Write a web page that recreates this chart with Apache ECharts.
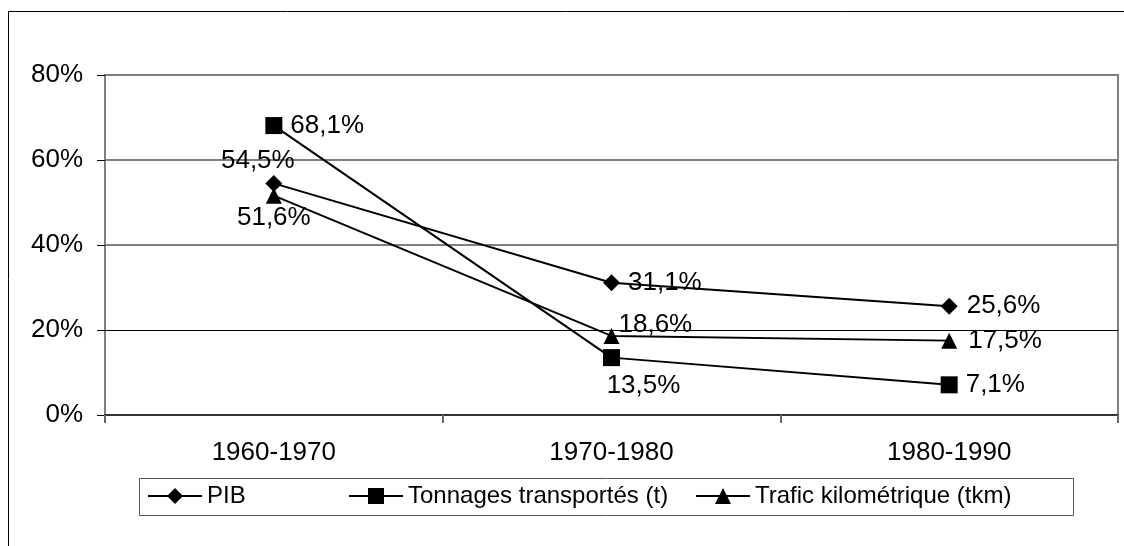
<!DOCTYPE html>
<html>
<head>
<meta charset="utf-8">
<script src="https://cdn.jsdelivr.net/npm/echarts@6/dist/echarts.min.js"></script>
<style>
html, body { margin: 0; padding: 0; background: #fff; }
#chartDIV { width: 1124px; height: 546px; }
</style>
</head>
<body>
<div id="chartDIV"></div>
<script>
var categories = ['1960-1970', '1970-1980', '1980-1990'];
var pib = [54.5, 31.1, 25.6];
var tonnages = [68.1, 13.5, 7.1];
var trafic = [51.6, 18.6, 17.5];
var yTicks = [0, 20, 40, 60, 80];
var seriesNames = ['PIB', 'Tonnages transportés (t)', 'Trafic kilométrique (tkm)'];

var myChart = echarts.init(document.getElementById('chartDIV'));
var font = 'Liberation Sans, Arial, sans-serif';

// placement of each data label (per series, per point)
var placements = [
    [{position: 'top', offset: [-16, 4]}, {position: 'right', distance: 8}, {position: 'right', distance: 9}],
    [{position: 'right', distance: 8}, {position: 'bottom', offset: [32, 2]}, {position: 'right', distance: 8}],
    [{position: 'bottom', offset: [0, -4]}, {position: 'right', offset: [-6, -11]}, {position: 'right', distance: 11}]
];

function fmt(v) {
    return String(v.toFixed(1)).replace('.', ',') + '%';
}

function buildData(values, idx) {
    return values.map(function (v, i) {
        return {value: v, label: placements[idx][i]};
    });
}

function makeSeries(name, values, idx, symbol, size) {
    return {
        name: name,
        type: 'line',
        data: buildData(values, idx),
        symbol: symbol,
        symbolSize: size,
        showAllSymbol: true,
        lineStyle: {color: '#000', width: 2},
        itemStyle: {color: '#000'},
        emphasis: {disabled: true},
        label: {
            show: true,
            color: '#000',
            fontFamily: font,
            fontSize: 26,
            formatter: function (p) { return fmt(p.value); }
        }
    };
}

function makeLegend(name, left) {
    return {
        data: [name],
        left: left,
        top: 484,
        padding: 0,
        itemWidth: 54,
        itemHeight: 20,
        selectedMode: false,
        textStyle: {color: '#000', fontFamily: font, fontSize: 24}
    };
}

var series = [
    makeSeries(seriesNames[0], pib, 0, 'diamond', 17),
    makeSeries(seriesNames[1], tonnages, 1, 'rect', 17),
    makeSeries(seriesNames[2], trafic, 2, 'triangle', 16)
];
// the 20% gridline is drawn thin and black
series[0].markLine = {
    silent: true,
    symbol: 'none',
    label: {show: false},
    lineStyle: {color: '#000', width: 1, type: 'solid'},
    data: [{yAxis: yTicks[1]}]
};

var option = {
    backgroundColor: '#fff',
    animation: false,
    grid: {
        left: 105,
        right: 6,
        top: 75,
        bottom: 131,
        show: true,
        borderColor: '#808080',
        borderWidth: 2,
        containLabel: false
    },
    legend: [
        makeLegend(seriesNames[0], 147),
        makeLegend(seriesNames[1], 348),
        makeLegend(seriesNames[2], 695)
    ],
    graphic: [
        {type: 'rect', shape: {x: 8.5, y: 11.5, width: 1300, height: 800}, style: {fill: 'none', stroke: '#000', lineWidth: 1}},
        {type: 'rect', shape: {x: 139.5, y: 478.5, width: 934, height: 37}, style: {fill: 'none', stroke: '#555', lineWidth: 1}}
    ],
    xAxis: {
        type: 'category',
        data: categories,
        boundaryGap: true,
        axisLine: {lineStyle: {color: '#333', width: 2}},
        axisTick: {show: true, length: 8, lineStyle: {color: '#666', width: 2}},
        axisLabel: {color: '#000', fontFamily: font, fontSize: 26, margin: 25}
    },
    yAxis: {
        type: 'value',
        min: yTicks[0],
        max: yTicks[yTicks.length - 1],
        interval: 20,
        axisLine: {show: true, lineStyle: {color: '#808080', width: 2}},
        axisTick: {show: true, length: 8, lineStyle: {color: '#000', width: 1}},
        axisLabel: {color: '#000', fontFamily: font, fontSize: 26, margin: 22, formatter: '{value}%'},
        splitLine: {show: true, lineStyle: {color: ['#808080', 'rgba(0,0,0,0)', '#808080', '#808080', '#808080'], width: 2}}
    },
    series: series
};

myChart.setOption(option);
</script>
</body>
</html>
